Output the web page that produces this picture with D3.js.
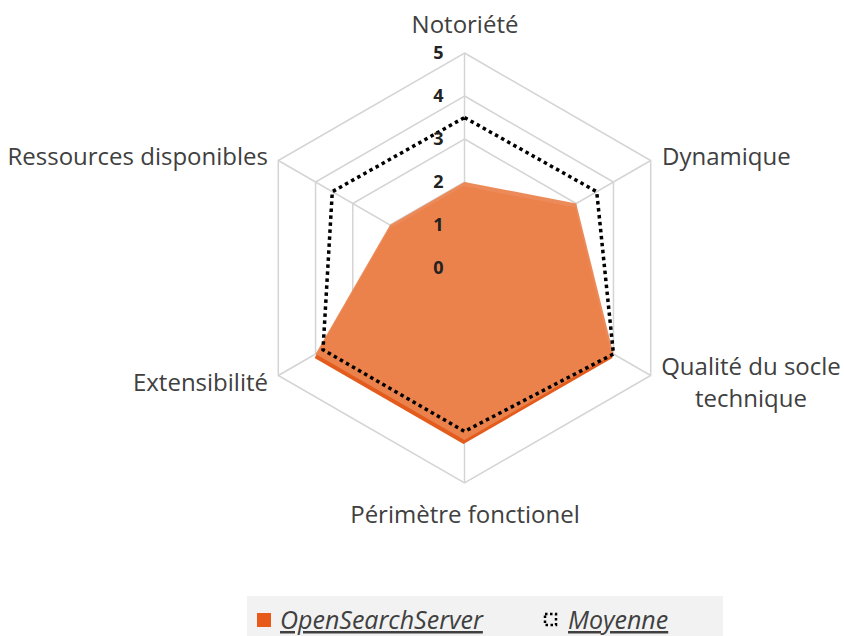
<!DOCTYPE html>
<html>
<head>
<meta charset="utf-8">
<script src="https://cdn.jsdelivr.net/npm/d3@7.9.0/dist/d3.min.js"></script>
<style>
  body { margin: 0; background: #fff; }
  svg { display: block; font-family: "Open Sans", sans-serif; }
</style>
</head>
<body>
<svg width="844" height="636"></svg>
<script>
// axes of the radar, clockwise from the top
const axes = ["Notoriété", "Dynamique", "Qualité du socle\ntechnique", "Périmètre fonctionel", "Extensibilité", "Ressources disponibles"];
const openSearch = [2, 3, 4, 4, 4, 2];
const moyenne = [3.5, 3.55, 4, 3.8, 3.8, 3.55];
const ticks = [0, 1, 2, 3, 4, 5];
const seriesNames = ["OpenSearchServer", "Moyenne"];

const svg = d3.select("svg");
const cx = 464.5, cy = 268;

let r = d3.scaleLinear().domain([0, 5]).range([0, 215]);
let angle = d3.scalePoint().domain(d3.range(axes.length)).range([0, 2 * Math.PI * (axes.length - 1) / axes.length]);

const g = svg.append("g").attr("transform", `translate(${cx},${cy})`);

// point on axis i at value v
function pt(i, v) {
    let a = angle(i);
    return [r(v) * Math.sin(a), -r(v) * Math.cos(a)];
}

let line = d3.line();

// hexagonal grid rings
ticks.slice(1).forEach(t => {
    g.append("path")
        .attr("d", line(axes.map((_, i) => pt(i, t))) + "Z")
        .attr("fill", "none")
        .attr("stroke", "#d4d4d4")
        .attr("stroke-width", 1.5);
});

// spokes
axes.forEach((_, i) => {
    let [x, y] = pt(i, 5);
    g.append("line")
        .attr("x1", 0).attr("y1", 0).attr("x2", x).attr("y2", y)
        .attr("stroke", "#d4d4d4")
        .attr("stroke-width", 1.5);
});

// OpenSearchServer area (shadow then fill)
let osPath = line(openSearch.map((v, i) => pt(i, v))) + "Z";
g.append("path")
    .attr("d", osPath)
    .attr("transform", "translate(-1,4)")
    .attr("fill", "#e35c1e");
g.append("path")
    .attr("d", osPath)
    .attr("fill", "#eb844f")
    .attr("fill-opacity", 0.94);

// Moyenne dotted outline
g.append("path")
    .attr("d", line(moyenne.map((v, i) => pt(i, v))) + "Z")
    .attr("fill", "none")
    .attr("stroke", "#000")
    .attr("stroke-width", 3.5)
    .attr("stroke-dasharray", "3.5 3.5");

// tick labels
ticks.forEach(t => {
    g.append("text")
        .attr("x", -21)
        .attr("y", -r(t))
        .attr("dy", "0.35em")
        .attr("text-anchor", "end")
        .attr("font-size", 18)
        .attr("font-weight", "bold")
        .attr("fill", "#222")
        .text(t);
});

// axis labels
const labelPos = [
    { x: 465, y: 33, anchor: "middle" },
    { x: 662, y: 165, anchor: "start" },
    { x: 751, y: 375, anchor: "middle" },
    { x: 465, y: 523, anchor: "middle" },
    { x: 268, y: 391, anchor: "end" },
    { x: 268, y: 165, anchor: "end" }
];
axes.forEach((name, i) => {
    let p = labelPos[i];
    let t = svg.append("text")
        .attr("x", p.x).attr("y", p.y)
        .attr("text-anchor", p.anchor)
        .attr("font-size", 24)
        .attr("fill", "#404040");
    name.split("\n").forEach((s, k) => {
        t.append("tspan").attr("x", p.x).attr("dy", k ? 32 : 0).text(s);
    });
});

// legend
const lg = svg.append("g");
lg.append("rect")
    .attr("x", 247).attr("y", 596).attr("width", 476).attr("height", 40)
    .attr("fill", "#f2f2f2");
lg.append("rect")
    .attr("x", 257).attr("y", 613).attr("width", 14).attr("height", 14)
    .attr("fill", "#e85a1a");
lg.append("rect")
    .attr("x", 545).attr("y", 614).attr("width", 11).attr("height", 11)
    .attr("fill", "none")
    .attr("stroke", "#000")
    .attr("stroke-width", 2.5)
    .attr("stroke-dasharray", "2.5 2.5");
const legendText = [{ x: 280, name: seriesNames[0] }, { x: 568, name: seriesNames[1] }];
legendText.forEach(d => {
    lg.append("text")
        .attr("x", d.x).attr("y", 629)
        .attr("font-size", 25)
        .attr("font-style", "italic")
        .attr("text-decoration", "underline")
        .attr("fill", "#404040")
        .text(d.name);
});
</script>
</body>
</html>
